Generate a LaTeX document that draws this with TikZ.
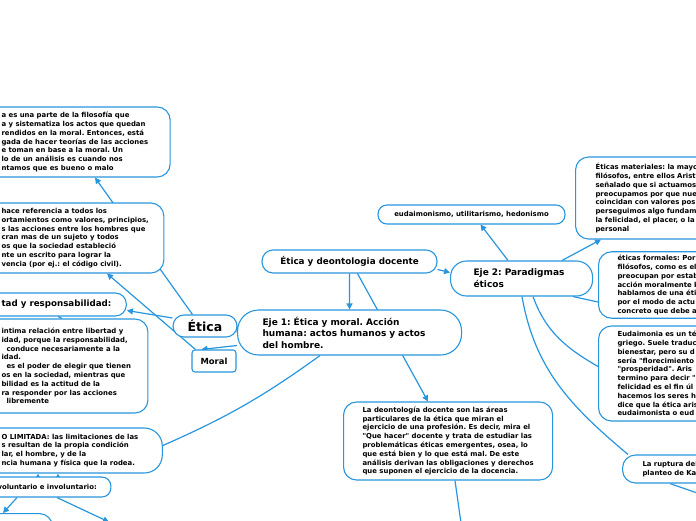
\documentclass[tikz,border=0pt]{standalone}
\usepackage{fontspec}
\setmainfont{DejaVu Sans}[Ligatures=TeXOff]
\frenchspacing
\usetikzlibrary{arrows.meta,backgrounds}
\definecolor{MapBlue}{RGB}{40,150,222}
\tikzset{
  card/.style={draw=MapBlue,line width=1.1pt,fill=white,rounded corners=13pt,
    align=left,anchor=west,font=\bfseries\fontsize{6.9}{8.8}\selectfont},
  pill/.style={card,rounded corners=9pt},
  topic/.style={draw=MapBlue,line width=1.1pt,fill=white,rounded corners=11pt,
    font=\bfseries\fontsize{8.8}{12}\selectfont},
  link/.style={draw=MapBlue,line width=1.2pt},
  linkarrow/.style={link,-{Triangle[length=6pt,width=6pt]}},
}

\begin{document}
\begin{tikzpicture}[x=1pt,y=-1pt]
\useasboundingbox (0,0) rectangle (696,520);
\clip (0,0) rectangle (696,520);
\coordinate (voluntarioout) at (109,522);
\coordinate (rupturaout) at (700,494);
\coordinate (deontout) at (461,523);
% left branch
\node[card,inner xsep=22pt,minimum height=70pt] (defetica) at (-21,142) {a es una parte de la filosofía que\\a y sistematiza los actos que quedan\\rendidos en la moral. Entonces, está\\gada de hacer teorías de las acciones\\e toman en base a la moral. Un\\lo de un análisis es cuando nos\\ntamos que es bueno o malo};
\node[card,inner xsep=15pt,minimum height=70pt] (defmoral) at (-14,238) {hace referencia a todos los\\ortamientos como valores, principios,\\s las acciones entre los hombres que\\cran mas de un sujeto y todos\\os que la sociedad estableció\\nte un escrito para lograr la\\vencia (por ej.: el código civil).};
\node[pill,rounded corners=11pt,inner xsep=15pt,minimum height=23pt,font=\bfseries\fontsize{8.7}{10}\selectfont] (libertad) at (-14,304.5) {tad y responsabilidad:};
\node[card,inner xsep=17pt,minimum height=94pt] (relacion) at (-16,366) {intima relación entre libertad y\\idad, porque la responsabilidad,\\\hspace*{5pt}conduce necesariamente a la\\idad.\\\hspace*{5pt}es el poder de elegir que tienen\\os en la sociedad, mientras que\\bilidad es la actitud de la\\ra responder por las acciones\\\hspace*{5pt}libremente};
\node[card,rounded corners=18pt,inner xsep=24pt,minimum height=45pt] (limitada) at (-23,450.5) {O LIMITADA: las limitaciones de las\\s resultan de la propia condición\\lar, el hombre, y de la\\ncia humana y física que la rodea.};
\node[pill,inner xsep=14pt,minimum height=20pt] (voluntario) at (-17,487) {voluntario e involuntario:};
\node[card,anchor=north east,minimum width=80pt,minimum height=30pt] (volleft) at (53,513) {};
% centre
\node[topic,minimum width=64pt,minimum height=22pt,font=\bfseries\fontsize{12.5}{14}\selectfont] (etica) at (205,326) {Ética};
\node[topic,rounded corners=3pt,minimum width=44pt,minimum height=22pt,font=\bfseries\fontsize{8.4}{10}\selectfont] (moral) at (214,361) {Moral};
\node[topic,anchor=west,align=left,text width=174pt,inner xsep=25pt,minimum height=45pt,rounded corners=21pt,font=\bfseries\fontsize{9}{11.6}\selectfont] (eje1) at (237,332.5) {Eje 1: Ética y moral. Acción\\humana: actos humanos y actos\\del hombre.};
\node[topic,minimum width=175pt,minimum height=23pt] (docente) at (349.5,261.5) {Ética y deontologia docente};
\node[card,inner xsep=19pt,minimum height=78pt] (deontologia) at (343,441) {La deontología docente son las áreas\\particulares de la ética que miran el\\ejercicio de una profesión. Es decir, mira el\\"Que hacer"  docente y trata de estudiar las\\problemáticas éticas emergentes, osea, lo\\que está bien y lo que está mal. De este\\análisis derivan las obligaciones  y derechos\\que suponen el ejercicio de la docencia.};
% right branch
\node[topic,anchor=west,align=left,text width=96pt,inner xsep=23pt,minimum height=35pt,rounded corners=16pt,font=\bfseries\fontsize{9}{12}\selectfont] (eje2) at (450,278.5) {Eje 2: Paradigmas\\éticos};
\node[pill,anchor=center,align=center,minimum width=187pt,minimum height=19pt] (corrientes) at (471.5,214.5) {eudaimonismo, utilitarismo, hedonismo};
\node[card,text width=140pt,inner xsep=20pt,minimum height=82pt] (materiales) at (575,198) {Éticas materiales: la mayo\\filósofos, entre ellos Arist\\señalado que si actuamos\\preocupamos por que nue\\coincidan con valores pos\\perseguimos algo fundam\\la felicidad, el placer, o la\\personal};
\node[card,text width=140pt,inner xsep=19pt,minimum height=66pt] (formales) at (598,285) {éticas formales: Por\\filósofos, como es el\\preocupan por estab\\acción moralmente b\\hablamos de una éti\\por el modo de actu\\concreto que debe a};
\node[card,text width=140pt,inner xsep=19pt,minimum height=95pt] (eudaimonia) at (598,373.5) {Eudaimonia es un té\\griego. Suele traduc\\bienestar, pero su d\\sería "florecimiento\\"prosperidad".  Aris\\termino para decir "\\felicidad es el fin úl\\hacemos los seres h\\dice que la ética aris\\eudaimonista o eud};
\node[card,text width=140pt,inner xsep=20pt,minimum height=28pt] (ruptura) at (622,469) {La ruptura del\\planteo de Ka};
\begin{scope}[on background layer]
\draw[linkarrow] ([xshift=20pt]etica.north west) -- ([xshift=116pt]defetica.south west);
\draw[linkarrow] ([xshift=4pt]moral.north west) -- ([xshift=121pt]defmoral.south west);
\draw[linkarrow] ([yshift=8pt]etica.west) -- ([yshift=-6pt]libertad.east);
\draw[link] ([xshift=72pt]libertad.south west) -- ([xshift=78pt]relacion.north west);
\draw[link] (eje1.west) -- (etica.east);
\draw[linkarrow] ([yshift=-13pt]eje1.west) -- ([xshift=10pt]moral.north west);
\draw[linkarrow] (docente.south) -- (eje1.north);
\draw[linkarrow] ([xshift=8pt]docente.south) -- ([xshift=85pt]deontologia.north west);
\draw[linkarrow] ([yshift=-8pt]docente.east) -- ([yshift=6pt]eje2.west);
\draw[link] ([xshift=83pt]eje1.south west) to[bend left=6] ([yshift=5pt]limitada.east);
\draw[linkarrow] ([xshift=55pt]voluntario.north west) -- ([xshift=61pt]limitada.south west);
\draw[linkarrow] ([xshift=75pt]voluntario.north west) -- ([xshift=81pt]limitada.south west);
\draw[linkarrow] ([xshift=34pt]voluntario.south west) -- ([xshift=-50pt]volleft.north east);
\draw[linkarrow] ([xshift=74pt]voluntario.south west) -- (voluntarioout);
\draw[linkarrow] ([xshift=58pt]eje2.north west) -- ([xshift=9pt]corrientes.south);
\draw[linkarrow] ([xshift=112pt]eje2.north west) -- ([xshift=26pt]materiales.south west);
\draw[link] ([xshift=123pt]eje2.south west) -- ([yshift=-17pt]formales.west);
\draw[link] ([xshift=83pt]eje2.south west) to[out=-70,in=150] ([yshift=7pt]eudaimonia.west);
\draw[link] ([xshift=72pt]eje2.south west) to[out=-80,in=140] ([xshift=6pt]ruptura.north west);
\draw[link] ([xshift=48pt]ruptura.south west) -- (rupturaout);
\draw[link] ([xshift=112pt]deontologia.south west) -- (deontout);
\end{scope}
\end{tikzpicture}
\end{document}
